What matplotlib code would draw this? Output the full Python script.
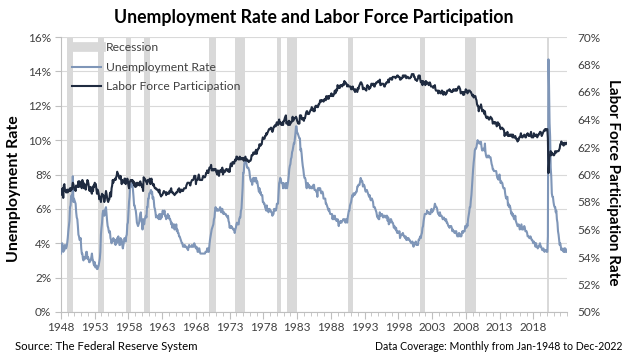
import numpy as np
import pandas as pd
import matplotlib
matplotlib.use("Agg")
import matplotlib.pyplot as plt
from matplotlib.lines import Line2D

# ---- data (monthly, Jan-1948 .. Dec-2022) ----
months = pd.date_range("1948-01-01", "2022-12-01", freq="MS")

unemployment_rate = [
 3.4,3.8,4.0,3.9,3.5,3.6,3.6,3.9,3.8,3.7,3.8,4.0,
 4.3,4.7,5.0,5.3,6.1,6.2,6.7,6.8,6.6,7.9,6.4,6.6,
 6.5,6.4,6.3,5.8,5.5,5.4,5.0,4.5,4.4,4.2,4.2,4.3,
 3.7,3.4,3.4,3.1,3.0,3.2,3.1,3.1,3.3,3.5,3.5,3.1,
 3.2,3.1,2.9,2.9,3.0,3.0,3.2,3.4,3.1,3.0,2.8,2.7,
 2.9,2.6,2.6,2.7,2.5,2.5,2.6,2.7,2.9,3.1,3.5,4.5,
 4.9,5.2,5.7,5.9,5.9,5.6,5.8,6.0,6.1,5.7,5.3,5.0,
 4.9,4.7,4.6,4.7,4.3,4.2,4.0,4.2,4.1,4.3,4.2,4.2,
 4.0,3.9,4.2,4.0,4.3,4.3,4.4,4.1,3.9,3.9,4.3,4.2,
 4.2,3.9,3.7,3.9,4.1,4.3,4.2,4.1,4.4,4.5,5.1,5.2,
 5.8,6.4,6.7,7.4,7.4,7.3,7.5,7.4,7.1,6.7,6.2,6.2,
 6.0,5.9,5.6,5.2,5.1,5.0,5.1,5.2,5.5,5.7,5.8,5.3,
 5.2,4.8,5.4,5.2,5.1,5.4,5.5,5.6,5.5,6.1,6.1,6.6,
 6.6,6.9,6.9,7.0,7.1,6.9,7.0,6.6,6.7,6.5,6.1,6.0,
 5.8,5.5,5.6,5.6,5.5,5.5,5.4,5.7,5.6,5.4,5.7,5.5,
 5.7,5.9,5.7,5.7,5.9,5.6,5.6,5.4,5.5,5.5,5.7,5.5,
 5.6,5.4,5.4,5.3,5.1,5.2,4.9,5.0,5.1,5.1,4.8,5.0,
 4.9,5.1,4.7,4.8,4.6,4.6,4.4,4.4,4.3,4.2,4.1,4.0,
 4.0,3.8,3.8,3.8,3.9,3.8,3.8,3.8,3.7,3.7,3.6,3.8,
 3.9,3.8,3.8,3.8,3.8,3.9,3.8,3.8,3.8,4.0,3.9,3.8,
 3.7,3.8,3.7,3.5,3.5,3.7,3.7,3.5,3.4,3.4,3.4,3.4,
 3.4,3.4,3.4,3.4,3.4,3.5,3.5,3.5,3.7,3.7,3.5,3.5,
 3.9,4.2,4.4,4.6,4.8,4.9,5.0,5.1,5.4,5.5,5.9,6.1,
 5.9,5.9,6.0,5.9,5.9,5.9,6.0,6.1,6.0,5.8,6.0,6.0,
 5.8,5.7,5.8,5.7,5.7,5.7,5.6,5.6,5.5,5.6,5.3,5.2,
 4.9,5.0,4.9,5.0,4.9,4.9,4.8,4.8,4.8,4.6,4.8,4.9,
 5.1,5.2,5.1,5.1,5.1,5.4,5.5,5.5,5.9,6.0,6.6,7.2,
 8.1,8.1,8.6,8.8,9.0,8.8,8.6,8.4,8.4,8.4,8.3,8.2,
 7.9,7.7,7.6,7.7,7.4,7.6,7.8,7.8,7.6,7.7,7.8,7.8,
 7.5,7.6,7.4,7.2,7.0,7.2,6.9,7.0,6.8,6.8,6.8,6.4,
 6.4,6.3,6.3,6.1,6.0,5.9,6.2,5.9,6.0,5.8,5.9,6.0,
 5.9,5.9,5.8,5.8,5.6,5.7,5.7,6.0,5.9,6.0,5.9,6.0,
 6.3,6.3,6.3,6.9,7.5,7.6,7.8,7.7,7.5,7.5,7.5,7.2,
 7.5,7.4,7.4,7.2,7.5,7.5,7.2,7.4,7.6,7.9,8.3,8.5,
 8.6,8.9,9.0,9.3,9.4,9.6,9.8,9.8,10.1,10.4,10.8,10.8,
 10.4,10.4,10.3,10.2,10.1,10.1,9.4,9.5,9.2,8.8,8.5,8.3,
 8.0,7.8,7.8,7.7,7.4,7.2,7.5,7.5,7.3,7.4,7.2,7.3,
 7.3,7.2,7.2,7.3,7.2,7.4,7.4,7.1,7.1,7.1,7.0,7.0,
 6.7,7.2,7.2,7.1,7.2,7.2,7.0,6.9,7.0,7.0,6.9,6.6,
 6.6,6.6,6.6,6.3,6.3,6.2,6.1,6.0,5.9,6.0,5.8,5.7,
 5.7,5.7,5.7,5.4,5.6,5.4,5.4,5.6,5.4,5.4,5.3,5.3,
 5.4,5.2,5.0,5.2,5.2,5.3,5.2,5.2,5.3,5.3,5.4,5.4,
 5.4,5.3,5.2,5.4,5.4,5.2,5.5,5.7,5.9,5.9,6.2,6.3,
 6.4,6.6,6.8,6.7,6.9,6.9,6.8,6.9,6.9,7.0,7.0,7.3,
 7.3,7.4,7.4,7.4,7.6,7.8,7.7,7.6,7.6,7.3,7.4,7.4,
 7.3,7.1,7.0,7.1,7.1,7.0,6.9,6.8,6.7,6.8,6.6,6.5,
 6.6,6.6,6.5,6.4,6.1,6.1,6.1,6.0,5.9,5.8,5.6,5.5,
 5.6,5.4,5.4,5.8,5.6,5.6,5.7,5.7,5.6,5.5,5.6,5.6,
 5.6,5.5,5.5,5.6,5.6,5.3,5.5,5.1,5.2,5.2,5.4,5.4,
 5.3,5.2,5.2,5.1,4.9,5.0,4.9,4.8,4.9,4.7,4.6,4.7,
 4.6,4.6,4.7,4.3,4.4,4.5,4.5,4.5,4.6,4.5,4.4,4.4,
 4.3,4.4,4.2,4.3,4.2,4.3,4.3,4.2,4.2,4.1,4.1,4.0,
 4.0,4.1,4.0,3.8,4.0,4.0,4.0,4.1,3.9,3.9,3.9,3.9,
 4.2,4.2,4.3,4.4,4.3,4.5,4.6,4.9,5.0,5.3,5.5,5.7,
 5.7,5.7,5.7,5.9,5.8,5.8,5.8,5.7,5.7,5.7,5.9,6.0,
 5.8,5.9,5.9,6.0,6.1,6.3,6.2,6.1,6.1,6.0,5.8,5.7,
 5.7,5.6,5.8,5.6,5.6,5.6,5.5,5.4,5.4,5.5,5.4,5.4,
 5.3,5.4,5.2,5.2,5.1,5.0,5.0,4.9,5.0,5.0,5.0,4.9,
 4.7,4.8,4.7,4.7,4.6,4.6,4.7,4.7,4.5,4.4,4.5,4.4,
 4.6,4.5,4.4,4.5,4.4,4.6,4.7,4.6,4.7,4.7,4.7,5.0,
 5.0,4.9,5.1,5.0,5.4,5.6,5.8,6.1,6.1,6.5,6.8,7.3,
 7.8,8.3,8.7,9.0,9.4,9.5,9.5,9.6,9.8,10.0,9.9,9.9,
 9.8,9.8,9.9,9.9,9.6,9.4,9.4,9.5,9.5,9.4,9.8,9.3,
 9.1,9.0,9.0,9.1,9.0,9.1,9.0,9.0,9.0,8.8,8.6,8.5,
 8.3,8.3,8.2,8.2,8.2,8.2,8.2,8.0,7.8,7.8,7.7,7.9,
 8.0,7.7,7.5,7.6,7.5,7.5,7.3,7.2,7.2,7.2,6.9,6.7,
 6.6,6.7,6.7,6.2,6.3,6.1,6.2,6.1,5.9,5.7,5.8,5.6,
 5.7,5.5,5.4,5.4,5.6,5.3,5.2,5.1,5.0,5.0,5.1,5.0,
 4.8,4.9,5.0,5.1,4.8,4.9,4.8,4.9,5.0,4.9,4.7,4.7,
 4.7,4.6,4.4,4.4,4.4,4.3,4.3,4.4,4.3,4.2,4.2,4.1,
 4.0,4.1,4.0,4.0,3.8,4.0,3.8,3.8,3.7,3.8,3.8,3.9,
 4.0,3.8,3.8,3.7,3.6,3.6,3.7,3.6,3.5,3.6,3.6,3.6,
 3.5,3.5,4.4,14.7,13.2,11.0,10.2,8.4,7.9,6.9,6.7,6.7,
 6.4,6.2,6.1,6.1,5.8,5.9,5.4,5.2,4.7,4.5,4.2,3.9,
 4.0,3.8,3.6,3.7,3.6,3.6,3.5,3.7,3.5,3.7,3.6,3.5,
]

labor_force_participation = [
 58.6,58.9,58.5,59.0,58.3,59.2,59.3,58.9,58.8,58.7,58.7,58.9,
 58.7,58.9,58.8,58.8,59.0,58.8,59.0,58.9,59.1,59.4,59.3,59.1,
 58.9,58.9,58.8,59.2,59.1,59.1,59.1,59.5,59.1,59.5,59.3,59.2,
 59.1,59.0,59.6,59.1,59.4,59.0,59.3,59.2,58.9,59.2,59.3,59.6,
 59.5,59.3,58.9,58.8,59.1,58.9,58.7,58.6,59.1,58.8,59.2,59.1,
 59.4,59.3,59.3,58.9,58.6,58.9,58.8,58.6,58.2,58.4,58.3,58.0,
 58.4,58.6,58.5,58.5,58.3,58.0,58.2,58.5,58.8,58.6,58.3,58.1,
 58.0,58.2,58.2,58.6,58.7,58.4,59.0,59.2,59.6,59.4,59.6,59.6,
 59.7,59.6,59.8,59.9,60.2,60.0,60.0,59.8,59.7,59.7,59.9,59.6,
 59.3,59.6,59.5,59.5,59.4,59.7,59.7,59.3,59.4,59.5,59.7,59.5,
 59.2,59.0,59.4,59.5,59.6,59.6,59.5,59.6,59.4,59.5,59.2,59.4,
 59.1,59.1,59.3,59.4,59.2,59.4,59.3,59.3,59.2,59.5,59.3,59.3,
 59.1,59.1,58.8,59.8,59.7,59.7,59.6,59.5,59.5,59.3,59.6,59.5,
 59.5,59.6,59.7,59.3,59.6,59.7,59.4,59.3,59.2,59.3,59.1,59.0,
 59.0,59.0,58.9,58.9,58.9,58.8,58.7,58.9,58.6,58.5,58.4,58.5,
 58.5,58.6,58.7,58.8,58.7,58.7,58.7,58.5,58.7,58.6,58.6,58.6,
 58.6,58.8,58.7,58.9,59.0,58.7,58.7,58.7,58.6,58.6,58.5,58.6,
 58.6,58.7,58.7,58.7,58.9,58.9,59.0,58.8,58.7,58.9,58.8,58.9,
 58.8,58.8,58.9,59.0,59.0,59.0,59.0,59.2,59.3,59.4,59.4,59.4,
 59.4,59.3,59.2,59.4,59.5,59.6,59.6,59.6,59.7,59.9,59.9,59.9,
 59.3,59.6,59.6,59.6,59.8,60.0,59.8,59.6,59.6,59.6,59.6,59.6,
 59.8,59.9,59.8,59.8,59.8,59.9,60.1,60.1,60.3,60.2,60.1,60.3,
 60.5,60.5,60.5,60.7,60.3,60.3,60.4,60.3,60.3,60.4,60.4,60.4,
 60.2,60.1,60.0,60.3,60.2,59.9,60.2,60.3,60.3,60.2,60.4,60.5,
 60.0,60.1,60.3,60.2,60.2,60.3,60.4,60.4,60.3,60.3,60.2,60.4,
 60.2,60.6,60.8,60.7,60.6,60.9,60.9,60.8,60.8,61.0,61.1,61.0,
 61.3,61.3,61.2,61.1,61.1,61.1,61.3,61.1,61.2,61.2,61.1,61.2,
 61.2,61.0,61.1,61.2,61.3,61.0,61.1,61.1,61.0,61.0,60.9,61.0,
 61.0,61.0,61.1,61.4,61.4,61.4,61.6,61.6,61.5,61.5,61.7,61.8,
 61.5,61.7,61.8,61.9,61.9,62.2,62.1,62.1,62.2,62.2,62.5,62.7,
 62.6,62.6,62.6,62.8,62.8,63.0,62.9,63.0,63.1,63.2,63.3,63.3,
 63.3,63.4,63.4,63.2,63.1,63.2,63.4,63.5,63.5,63.6,63.5,63.7,
 63.8,63.7,63.6,63.8,64.0,63.7,63.8,63.7,63.6,63.7,63.8,63.6,
 63.9,63.9,64.1,64.2,64.3,63.7,63.8,63.8,63.6,63.9,63.9,63.6,
 63.7,63.8,63.8,63.9,64.2,63.9,64.0,64.1,64.1,64.1,64.2,64.1,
 63.9,63.8,63.7,63.8,63.7,64.3,64.1,64.3,64.1,64.0,64.1,64.1,
 63.9,64.1,64.1,64.3,64.5,64.6,64.6,64.4,64.4,64.4,64.5,64.6,
 64.7,64.7,64.9,64.8,64.8,64.6,64.7,64.6,64.9,65.0,64.9,65.0,
 64.9,64.9,65.1,65.1,65.2,65.4,65.4,65.3,65.4,65.4,65.4,65.3,
 65.4,65.5,65.5,65.4,65.7,65.5,65.6,65.7,65.5,65.7,65.7,65.7,
 65.8,65.9,65.7,65.8,65.7,65.8,65.9,66.1,65.9,66.0,66.2,66.1,
 66.5,66.3,66.3,66.4,66.3,66.5,66.5,66.5,66.4,66.5,66.6,66.5,
 66.8,66.7,66.7,66.6,66.6,66.4,66.5,66.5,66.4,66.4,66.4,66.4,
 66.2,66.2,66.3,66.4,66.2,66.2,66.1,66.0,66.2,66.1,66.1,66.0,
 66.3,66.2,66.4,66.5,66.6,66.7,66.7,66.6,66.5,66.2,66.3,66.3,
 66.2,66.2,66.2,66.1,66.4,66.5,66.4,66.4,66.2,66.3,66.3,66.4,
 66.6,66.6,66.5,66.6,66.6,66.4,66.4,66.6,66.6,66.7,66.7,66.7,
 66.8,66.8,66.7,66.9,66.5,66.5,66.6,66.6,66.6,66.6,66.5,66.4,
 66.4,66.6,66.6,66.7,66.7,66.7,66.9,66.7,66.9,67.0,67.0,67.0,
 66.9,66.9,67.1,67.1,67.1,67.1,67.1,67.0,67.1,67.1,67.2,67.2,
 67.1,67.1,67.1,66.9,66.9,67.0,67.0,67.0,67.2,67.2,67.1,67.2,
 67.2,67.2,67.0,67.1,67.1,67.1,67.0,67.0,67.0,67.0,67.1,67.1,
 67.3,67.3,67.3,67.3,67.1,67.1,66.9,66.9,66.9,66.8,66.9,67.0,
 67.2,67.1,67.2,66.9,66.7,66.7,66.8,66.5,66.8,66.7,66.7,66.7,
 66.5,66.8,66.6,66.7,66.7,66.6,66.5,66.6,66.7,66.6,66.4,66.4,
 66.4,66.4,66.3,66.4,66.4,66.5,66.2,66.1,66.1,66.1,66.1,65.9,
 66.1,66.0,66.0,65.9,65.9,66.1,66.1,66.0,65.8,65.9,66.0,65.9,
 65.8,65.9,65.9,66.1,66.1,66.1,66.1,66.2,66.1,66.1,66.0,66.0,
 66.0,66.1,66.2,66.1,66.1,66.2,66.1,66.2,66.1,66.2,66.3,66.4,
 66.4,66.3,66.2,65.9,66.0,66.0,66.0,65.8,66.0,65.8,66.0,66.0,
 66.2,66.0,66.1,65.9,66.1,66.1,66.1,66.1,66.0,66.0,65.9,65.8,
 65.7,65.8,65.6,65.7,65.7,65.7,65.5,65.4,65.1,65.0,65.0,64.6,
 64.8,64.9,64.9,65.1,64.9,64.6,64.6,64.7,64.6,64.4,64.6,64.3,
 64.2,64.1,64.2,64.2,64.1,64.0,64.0,64.1,64.2,64.1,64.1,64.0,
 63.7,63.8,63.8,63.7,63.8,63.8,63.7,63.5,63.6,63.8,63.6,63.7,
 63.6,63.4,63.3,63.4,63.4,63.4,63.3,63.3,63.2,62.8,63.0,62.9,
 62.9,62.9,63.1,62.8,62.8,62.8,62.9,62.9,62.8,62.9,62.9,62.7,
 62.9,62.7,62.7,62.7,62.8,62.6,62.6,62.6,62.4,62.5,62.5,62.7,
 62.7,62.8,63.0,62.8,62.7,62.7,62.8,62.8,62.9,62.8,62.7,62.7,
 62.9,62.9,63.0,62.9,62.8,62.8,62.9,62.9,63.1,62.7,62.8,62.7,
 62.7,63.0,62.9,62.8,62.8,62.9,62.9,62.7,62.8,62.9,62.9,63.0,
 63.1,63.1,63.0,62.8,62.9,63.0,63.1,63.2,63.2,63.3,63.2,63.3,
 63.3,63.3,62.6,60.1,60.8,61.4,61.4,61.7,61.4,61.6,61.5,61.5,
 61.4,61.4,61.5,61.7,61.6,61.6,61.7,61.7,61.7,61.7,61.8,61.9,
 62.2,62.2,62.4,62.2,62.3,62.2,62.1,62.3,62.3,62.2,62.2,62.3,
]

# NBER recessions (first month, last month)
recession_start = ["1948-11", "1953-07", "1957-08", "1960-04", "1969-12", "1973-11",
                   "1980-01", "1981-07", "1990-07", "2001-03", "2007-12", "2020-02"]
recession_end   = ["1949-10", "1954-05", "1958-04", "1961-02", "1970-11", "1975-03",
                   "1980-07", "1982-11", "1991-03", "2001-11", "2009-06", "2020-04"]

x_tick_years = list(range(1948, 2019, 5))

# ---- drawing ----
FONT = ["Lato", "DejaVu Sans"]
plt.rcParams["font.family"] = FONT

def frac_year(ts):
    ts = pd.Timestamp(ts)
    return ts.year + (ts.month - 1) / 12.0

x = np.array([frac_year(m) for m in months])

fig = plt.figure(figsize=(6.28, 3.59), dpi=100)
ax = fig.add_axes([61/628, 1 - 312/359, (567-61)/628, (312-37)/359])
ax2 = ax.twinx()

grid_c = "#d9d9d9"
text_c = "#404040"
unemp_c = "#7f96b8"
lfp_c = "#1f2b40"
rec_c = "#d9d9d9"

rs = np.array([frac_year(s) for s in recession_start])
re_ = np.array([frac_year(e) + 1/12 for e in recession_end])
ax.bar(rs, np.full(len(rs), 16.0), width=re_ - rs, align="edge", color=rec_c,
       linewidth=0, zorder=1)

ax.set_ylim(0, 16)
ax.set_yticks(np.arange(0, 17, 2))
ax.set_yticklabels([f"{v}%" for v in range(0, 17, 2)])
ax.set_xlim(1948, 2023)
ax.set_xticks(x_tick_years)
ax.set_xticks(np.arange(1948, 2024, 1), minor=True)
ax.grid(axis="y", color=grid_c, linewidth=0.8, zorder=0)
ax.set_axisbelow(True)

ax.plot(x, unemployment_rate, color=unemp_c, linewidth=1.5, zorder=3)
ax2.plot(x, labor_force_participation, color=lfp_c, linewidth=1.5, zorder=3)
ax2.set_ylim(50, 70)
ax2.set_yticks(np.arange(50, 71, 2))
ax2.set_yticklabels([f"{v}%" for v in range(50, 71, 2)])

for a in (ax, ax2):
    for s in ("top", "right"):
        a.spines[s].set_visible(False)
ax2.spines["left"].set_visible(False)
ax2.spines["bottom"].set_visible(False)
ax.spines["left"].set_color("#bfbfbf")
ax.spines["bottom"].set_color("#bfbfbf")

ax.tick_params(axis="y", length=4, color="#bfbfbf", labelsize=8.5, labelcolor=text_c, pad=3)
ax.tick_params(axis="x", which="major", length=5, color="#bfbfbf", labelsize=8.5,
               labelcolor=text_c, pad=2)
ax.tick_params(axis="x", which="minor", length=3, color="#bfbfbf")
ax2.tick_params(axis="y", length=0, labelsize=8.5, labelcolor=text_c, pad=7.5)

ax.set_ylabel("Unemployment Rate", fontsize=11.5, fontweight="bold", color="black")
ax.yaxis.set_label_coords(-0.079, 0.45)
ax2.set_ylabel("Labor Force Participation Rate", fontsize=11, fontweight="bold",
               color="black", rotation=270, va="center")
ax2.yaxis.set_label_coords(1.09, 0.473)

fig.text(0.5, 1 - 18/359, "Unemployment Rate and Labor Force Participation",
         ha="center", va="center", fontsize=12.7, fontweight="bold", color="black")
fig.text(15/628, 1 - 347/359, "Source: The Federal Reserve System", ha="left",
         va="center", fontsize=8.2, color="black")
fig.text(622/628, 1 - 347/359, "Data Coverage: Monthly from Jan-1948 to Dec-2022",
         ha="right", va="center", fontsize=7.6, color="black")

handles = [Line2D([], [], color=rec_c, linewidth=7),
           Line2D([], [], color=unemp_c, linewidth=1.5),
           Line2D([], [], color=lfp_c, linewidth=1.5)]
leg = ax2.legend(handles, ["Recession", "Unemployment Rate", "Labor Force Participation"],
                 loc="upper left", bbox_to_anchor=(0.0, 1.02), frameon=False,
                 fontsize=8.7, handlelength=2.4, handletextpad=0.4, labelspacing=0.7)
for t in leg.get_texts():
    t.set_color(text_c)

fig.savefig("out.png", dpi=100)
